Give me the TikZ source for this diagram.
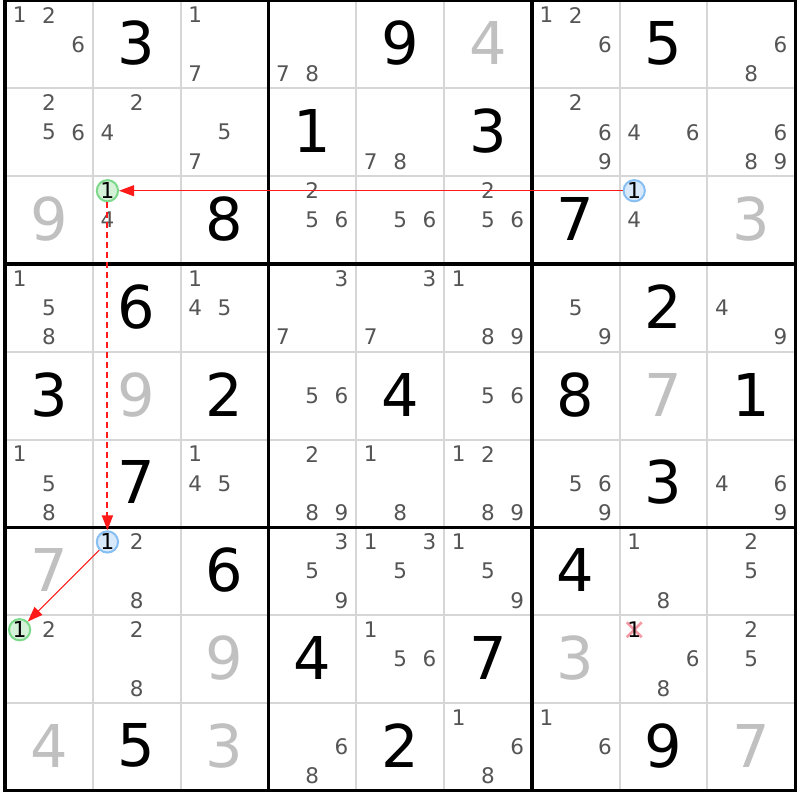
\documentclass[tikz,border=0pt]{standalone}
\usepackage{fontspec}
\setmainfont{DejaVu Sans}
\usetikzlibrary{arrows.meta,shapes.misc}
\definecolor{candgray}{HTML}{555555}
\definecolor{solvedgray}{HTML}{C0C0C0}
\definecolor{thinline}{HTML}{D6D6D6}
\definecolor{linkred}{HTML}{FF1A1A}
\definecolor{bluefill}{HTML}{D8E9FB}
\definecolor{blueedge}{HTML}{88BFF2}
\definecolor{greenfill}{HTML}{D5F2D8}
\definecolor{greenedge}{HTML}{7CD98A}
\definecolor{crosspink}{HTML}{F49AA5}
\tikzset{
  cand/.style={inner sep=0pt, text=candgray, font=\fontsize{21.5}{21.5}\selectfont},
  given/.style={inner sep=0pt, text=black, font=\fontsize{59}{59}\selectfont},
  solved/.style={inner sep=0pt, text=solvedgray, font=\fontsize{59}{59}\selectfont},
  bluecirc/.style={circle, inner sep=0pt, minimum size=20.5pt, draw=blueedge, fill=bluefill, line width=2pt, text=black, font=\fontsize{22}{22}\selectfont},
  greencirc/.style={circle, inner sep=0pt, minimum size=20.5pt, draw=greenedge, fill=greenfill, line width=2pt, text=black, font=\fontsize{22}{22}\selectfont},
  elim/.style={cross out, draw=crosspink, line width=2.8pt, minimum size=12pt, inner sep=0pt},
  link/.style={draw=linkred, line width=1.1pt, -{Triangle[length=15pt,width=11pt]}},
  weaklink/.style={link, line width=2pt, dash pattern=on 6pt off 4pt},
  thingrid/.style={draw=thinline, line width=2pt},
  thickgrid/.style={draw=black, line width=3.4pt},
}
\begin{document}
\begin{tikzpicture}[x=1pt,y=-1pt]
\useasboundingbox (0,0) rectangle (800,800);
\fill[white] (0,0) rectangle (800,800);
\def\cs{87.8}
\def\xo{5}
\def\yo{0.5}
% thin lines
\foreach \i in {1,2,4,5,7,8}{
  \draw[thingrid] ({\xo+\i*\cs},\yo) -- ({\xo+\i*\cs},{\yo+9*\cs});
  \draw[thingrid] (\xo,{\yo+\i*\cs}) -- ({\xo+9*\cs},{\yo+\i*\cs});
}
% thick lines
\foreach \i in {0,3,6,9}{
  \draw[thickgrid] ({\xo+\i*\cs},\yo-1.7) -- ({\xo+\i*\cs},{\yo+9*\cs+1.7});
  \draw[thickgrid] (\xo-1.7,{\yo+\i*\cs}) -- ({\xo+9*\cs+1.7},{\yo+\i*\cs});
}
% given digits
\foreach \r/\c/\d in {1/2/3,1/5/9,1/8/5,2/4/1,2/6/3,3/3/8,3/7/7,4/2/6,4/8/2,5/1/3,5/3/2,5/5/4,5/7/8,5/9/1,6/2/7,6/8/3,7/3/6,7/7/4,8/4/4,8/6/7,9/2/5,9/5/2,9/8/9}{
  \node[given] (g-\r-\c) at ({\xo+(\c-0.5)*\cs},{\yo+(\r-0.5)*\cs-1}) {\d};
}
% solved digits
\foreach \r/\c/\d in {1/6/4,3/1/9,3/9/3,5/2/9,5/8/7,7/1/7,8/3/9,8/7/3,9/1/4,9/3/3,9/9/7}{
  \node[solved] (s-\r-\c) at ({\xo+(\c-0.5)*\cs},{\yo+(\r-0.5)*\cs-1}) {\d};
}
% candidates
\foreach \r/\c/\d in {
 1/1/1,1/1/2,1/1/6, 1/3/1,1/3/7, 1/4/7,1/4/8, 1/7/1,1/7/2,1/7/6, 1/9/6,1/9/8,
 2/1/2,2/1/5,2/1/6, 2/2/2,2/2/4, 2/3/5,2/3/7, 2/5/7,2/5/8, 2/7/2,2/7/6,2/7/9, 2/8/4,2/8/6, 2/9/6,2/9/8,2/9/9,
 3/2/4, 3/4/2,3/4/5,3/4/6, 3/5/5,3/5/6, 3/6/2,3/6/5,3/6/6, 3/8/4,
 4/1/1,4/1/5,4/1/8, 4/3/1,4/3/4,4/3/5, 4/4/3,4/4/7, 4/5/3,4/5/7, 4/6/1,4/6/8,4/6/9, 4/7/5,4/7/9, 4/9/4,4/9/9,
 5/4/5,5/4/6, 5/6/5,5/6/6,
 6/1/1,6/1/5,6/1/8, 6/3/1,6/3/4,6/3/5, 6/4/2,6/4/8,6/4/9, 6/5/1,6/5/8, 6/6/1,6/6/2,6/6/8,6/6/9, 6/7/5,6/7/6,6/7/9, 6/9/4,6/9/6,6/9/9,
 7/2/2,7/2/8, 7/4/3,7/4/5,7/4/9, 7/5/1,7/5/3,7/5/5, 7/6/1,7/6/5,7/6/9, 7/8/1,7/8/8, 7/9/2,7/9/5,
 8/1/2, 8/2/2,8/2/8, 8/5/1,8/5/5,8/5/6, 8/8/6,8/8/8, 8/9/2,8/9/5,
 9/4/6,9/4/8, 9/6/1,9/6/6,9/6/8, 9/7/1,9/7/6}{
  \pgfmathsetmacro{\px}{\xo+(\c-1)*\cs+(mod(\d-1,3)+0.5)*\cs/3}
  \pgfmathsetmacro{\py}{\yo+(\r-1)*\cs+(div(\d-1,3)+0.5)*\cs/3}
  \node[cand] (c-\r-\c-\d) at (\px,\py) {\d};
}
% eliminated candidate
\node[elim] (x-8-8) at ({\xo+7*\cs+\cs/6},{\yo+7*\cs+\cs/6}) {};
\node[inner sep=0pt, text=black, font=\fontsize{21.5}{21.5}\selectfont] (c-8-8-1) at ({\xo+7*\cs+\cs/6},{\yo+7*\cs+\cs/6}) {1};
% chain nodes
\node[bluecirc] (b1) at ({\xo+7*\cs+\cs/6},{\yo+2*\cs+\cs/6}) {1};
\node[greencirc] (e1) at ({\xo+1*\cs+\cs/6},{\yo+2*\cs+\cs/6}) {1};
\node[bluecirc] (b2) at ({\xo+1*\cs+\cs/6},{\yo+6*\cs+\cs/6}) {1};
\node[greencirc] (e2) at ({\xo+0*\cs+\cs/6},{\yo+7*\cs+\cs/6}) {1};
% links
\draw[link] (b1) -- (e1);
\draw[weaklink] (e1) -- (b2);
\draw[link] (b2) -- (e2);
\end{tikzpicture}
\end{document}
